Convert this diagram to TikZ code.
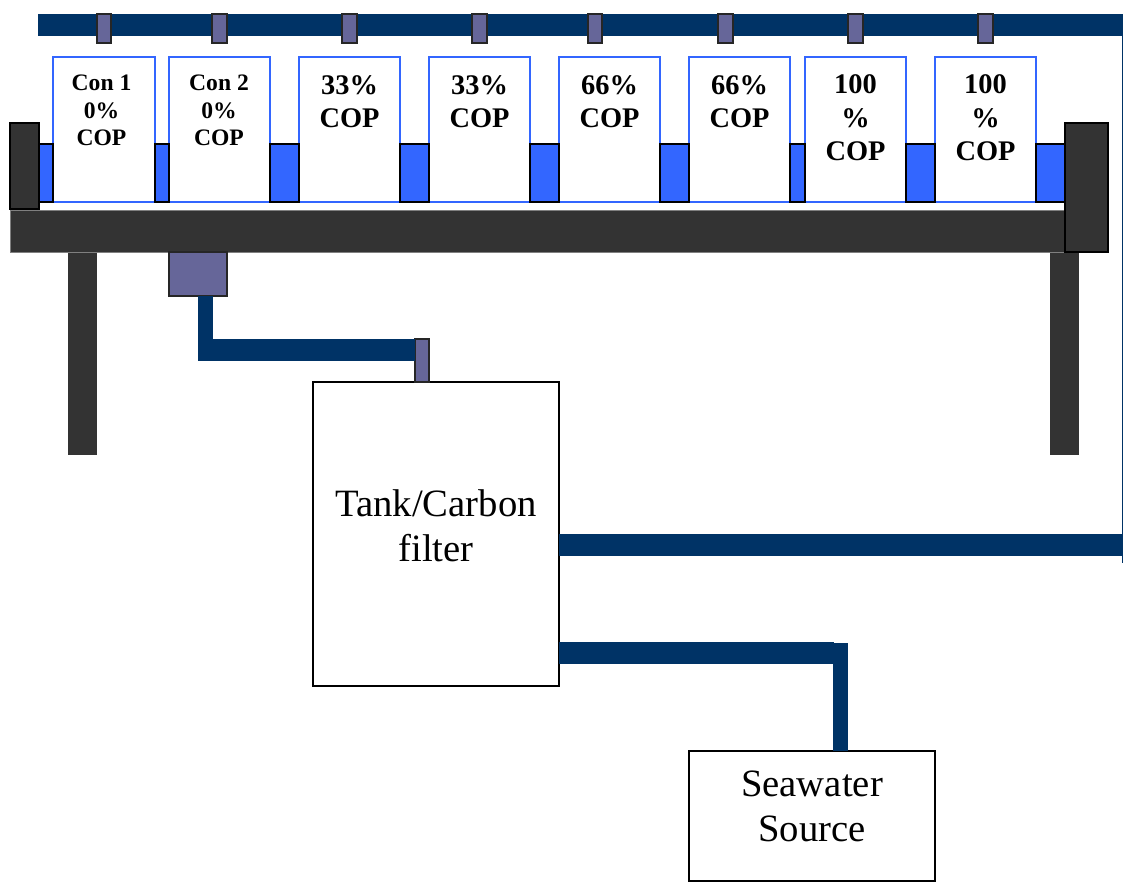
\documentclass[tikz,border=0pt]{standalone}
\usepackage{fontspec}
\setmainfont{Liberation Serif}
\definecolor{navy}{HTML}{003366}
\definecolor{water}{HTML}{3366FF}
\definecolor{dark}{HTML}{333333}
\definecolor{valve}{HTML}{666699}
\tikzset{
  part/.style={rectangle,inner sep=0pt,outer sep=0pt,anchor=north west},
  cup/.style={part,draw=water,line width=.9pt,fill=white},
  waterbox/.style={part,draw=black,line width=.9pt,fill=water},
  frame/.style={part,draw=gray,line width=.7pt,fill=dark},
  block/.style={part,draw=black,line width=.9pt,fill=dark},
  leg/.style={part,fill=dark},
  valvebox/.style={part,draw=black!85,line width=.9pt,fill=valve},
  vessel/.style={part,draw=black,line width=.85pt,fill=white},
  pipeH/.style={draw=navy,line width=16.5pt},
  pipeV/.style={draw=navy,line width=11.1pt},
  thinpipe/.style={draw=navy,line width=1.2pt},
  small/.style={align=center,font=\bfseries\fontsize{17.7}{20.5}\selectfont},
  big/.style={align=center,font=\bfseries\fontsize{21.3}{24.7}\selectfont},
  tall/.style={align=center,font=\bfseries\fontsize{21.3}{25}\selectfont},
  large/.style={align=center,font=\fontsize{29}{34}\selectfont}
}
\newcommand{\bx}[6]{\node[#1,minimum width={(#5-#3)*0.75pt},minimum height={(#6-#4)*0.75pt}] (#2) at (#3,#4) {};}
\begin{document}
\begin{tikzpicture}[x=0.75pt,y=-0.75pt]
\useasboundingbox (0,0) rectangle (1123,882);
% named pipe end points
\coordinate (topL) at (38,25);
\coordinate (topR) at (1123,25);
\coordinate (thinT) at (1122.3,25);
\coordinate (thinB) at (1122.3,563);
\coordinate (retR) at (1123,545);
\coordinate (feedC) at (834,653);
\coordinate (feedV) at (840.5,643);
\coordinate (drainC) at (205.5,349.5);
\coordinate (drainL) at (198,349.5);
% top pipe and thin return line
\draw[pipeH] (topL) -- (topR);
\draw[thinpipe] (thinT) -- (thinB);
% containers
\bx{cup}{c1}{53}{57}{155}{202}
\bx{cup}{c2}{169}{57}{270}{202}
\bx{cup}{c3}{299}{57}{400}{202}
\bx{cup}{c4}{429}{57}{530}{202}
\bx{cup}{c5}{559}{57}{660}{202}
\bx{cup}{c6}{689}{57}{790}{202}
\bx{cup}{c7}{805}{57}{906}{202}
\bx{cup}{c8}{935}{57}{1036}{202}
% water
\bx{waterbox}{w1}{39}{144}{53}{202}
\bx{waterbox}{w2}{155}{144}{169}{202}
\bx{waterbox}{w3}{270}{144}{299}{202}
\bx{waterbox}{w4}{400}{144}{429}{202}
\bx{waterbox}{w5}{530}{144}{559}{202}
\bx{waterbox}{w6}{660}{144}{689}{202}
\bx{waterbox}{w7}{790}{144}{805}{202}
\bx{waterbox}{w8}{906}{144}{935}{202}
\bx{waterbox}{w9}{1036}{144}{1066}{202}
\node[small] (t1) at (101.5,110.5) {Con 1\\0\%\\COP};
\node[small] (t2) at (219,110.5) {Con 2\\0\%\\COP};
\node[big] (t3) at (349.5,101.5) {33\%\\COP};
\node[big] (t4) at (479.5,101.5) {33\%\\COP};
\node[big] (t5) at (609.5,101.5) {66\%\\COP};
\node[big] (t6) at (739.5,101.5) {66\%\\COP};
\node[tall] (t7) at (855.5,118) {100\\\%\\COP};
\node[tall] (t8) at (985.5,118) {100\\\%\\COP};
% valves on top pipe
\bx{valvebox}{v1}{97}{14}{111}{43}
\bx{valvebox}{v2}{212}{14}{227}{43}
\bx{valvebox}{v3}{342}{14}{357}{43}
\bx{valvebox}{v4}{472}{14}{487}{43}
\bx{valvebox}{v5}{588}{14}{602}{43}
\bx{valvebox}{v6}{718}{14}{733}{43}
\bx{valvebox}{v7}{848}{14}{863}{43}
\bx{valvebox}{v8}{978}{14}{993}{43}
% table
\bx{leg}{legL}{68}{252}{97}{455}
\bx{leg}{legR}{1050}{252}{1079}{455}
\bx{frame}{bar}{10}{210}{1065}{252}
\bx{block}{endL}{10}{123}{39}{209}
\bx{block}{endR}{1065}{123}{1108}{252}
% drain
\bx{valvebox}{drain}{169}{252}{227}{296}
\bx{vessel}{tank}{313}{382}{559}{686}
\bx{vessel}{sea}{689}{751}{935}{881}
\bx{valvebox}{v9}{415}{339}{429}{382}
% connectors
\draw[draw=navy,line width=11.25pt] (drainC |- drain.south) -- (drainC |- 0,360);
\draw[pipeH] (drainL) -- (drainL -| v9.west);
\draw[pipeH] (tank.east |- retR) -- (retR);
\draw[pipeH] (tank.east |- feedC) -- (feedC);
\draw[pipeV] (feedV) -- (feedV |- sea.north);
\node[large] (tanklabel) at (436,526) {Tank/Carbon\\filter};
\node[large] (sealabel) at (812,806.5) {Seawater\\Source};
\end{tikzpicture}
\end{document}
